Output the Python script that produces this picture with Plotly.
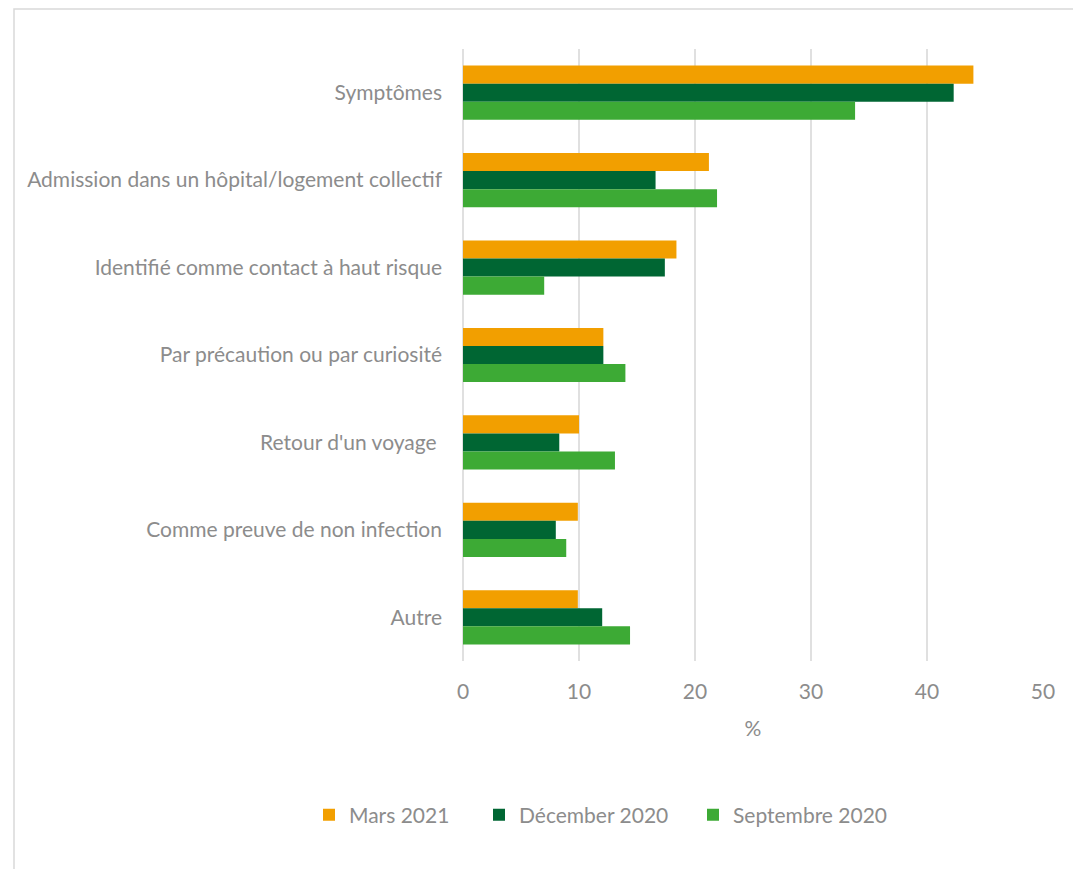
import plotly.graph_objects as go

categories = [
    "Symptômes",
    "Admission dans un hôpital/logement collectif",
    "Identifié comme contact à haut risque",
    "Par précaution ou par curiosité",
    "Retour d'un voyage ",
    "Comme preuve de non infection",
    "Autre",
]
mars_2021 = [44.0, 21.2, 18.4, 12.1, 10.0, 9.9, 9.9]
decembre_2020 = [42.3, 16.6, 17.4, 12.1, 8.3, 8.0, 12.0]
septembre_2020 = [33.8, 21.9, 7.0, 14.0, 13.1, 8.9, 14.4]

series = [
    ("Mars 2021", mars_2021, "#F29F00", "legend", 309),
    ("Décember 2020", decembre_2020, "#006633", "legend2", 479),
    ("Septembre 2020", septembre_2020, "#3DAA35", "legend3", 693),
]

W, H = 1073, 869
L, R, T, B = 463, 30, 49, 208
pw, ph = W - L - R, H - T - B

grey = "#8c8c8c"
font_family = "Lato, 'Open Sans', sans-serif"
fs = 21


def px_x(p):
    return (p - L) / pw


def px_y(p):
    return (H - B - p) / ph


fig = go.Figure()
legends = {}
for name, vals, color, leg, lx in series:
    fig.add_trace(go.Bar(
        y=categories, x=vals, name=name, orientation="h",
        marker=dict(color=color, line=dict(width=0)),
        legend=leg,
    ))
    legends[leg] = dict(
        orientation="h", x=px_x(lx), xanchor="left", y=px_y(815), yanchor="middle",
        font=dict(size=fs, color=grey), itemwidth=30,
        bgcolor="rgba(0,0,0,0)",
    )

# thin frame around the whole chart
fig.add_shape(type="rect", xref="paper", yref="paper",
              x0=px_x(14), x1=px_x(1090), y0=px_y(9), y1=px_y(890),
              line=dict(color="#d9d9d9", width=1.5), fillcolor="rgba(0,0,0,0)",
              layer="below")

fig.update_layout(
    width=W, height=H,
    margin=dict(l=L, r=R, t=T, b=B),
    paper_bgcolor="white", plot_bgcolor="white",
    barmode="group", bargap=0.38, bargroupgap=0,
    font=dict(family=font_family, size=fs, color=grey),
    showlegend=True,
    **legends,
    xaxis=dict(
        range=[0, 50], dtick=10, tick0=0,
        showgrid=True, gridcolor="#e0e0e0", gridwidth=1.5,
        zeroline=True, zerolinecolor="#e0e0e0", zerolinewidth=1.5,
        showline=False, ticks="",
        tickfont=dict(size=fs, color=grey),
        ticklabelstandoff=16,
        title=dict(text="%", font=dict(size=fs, color=grey), standoff=19),
        fixedrange=True,
    ),
    yaxis=dict(
        autorange="reversed", showgrid=False, zeroline=False, showline=False,
        ticks="", tickfont=dict(size=fs, color=grey),
        ticklabelstandoff=20,
    ),
)

fig.write_html("out.html")
